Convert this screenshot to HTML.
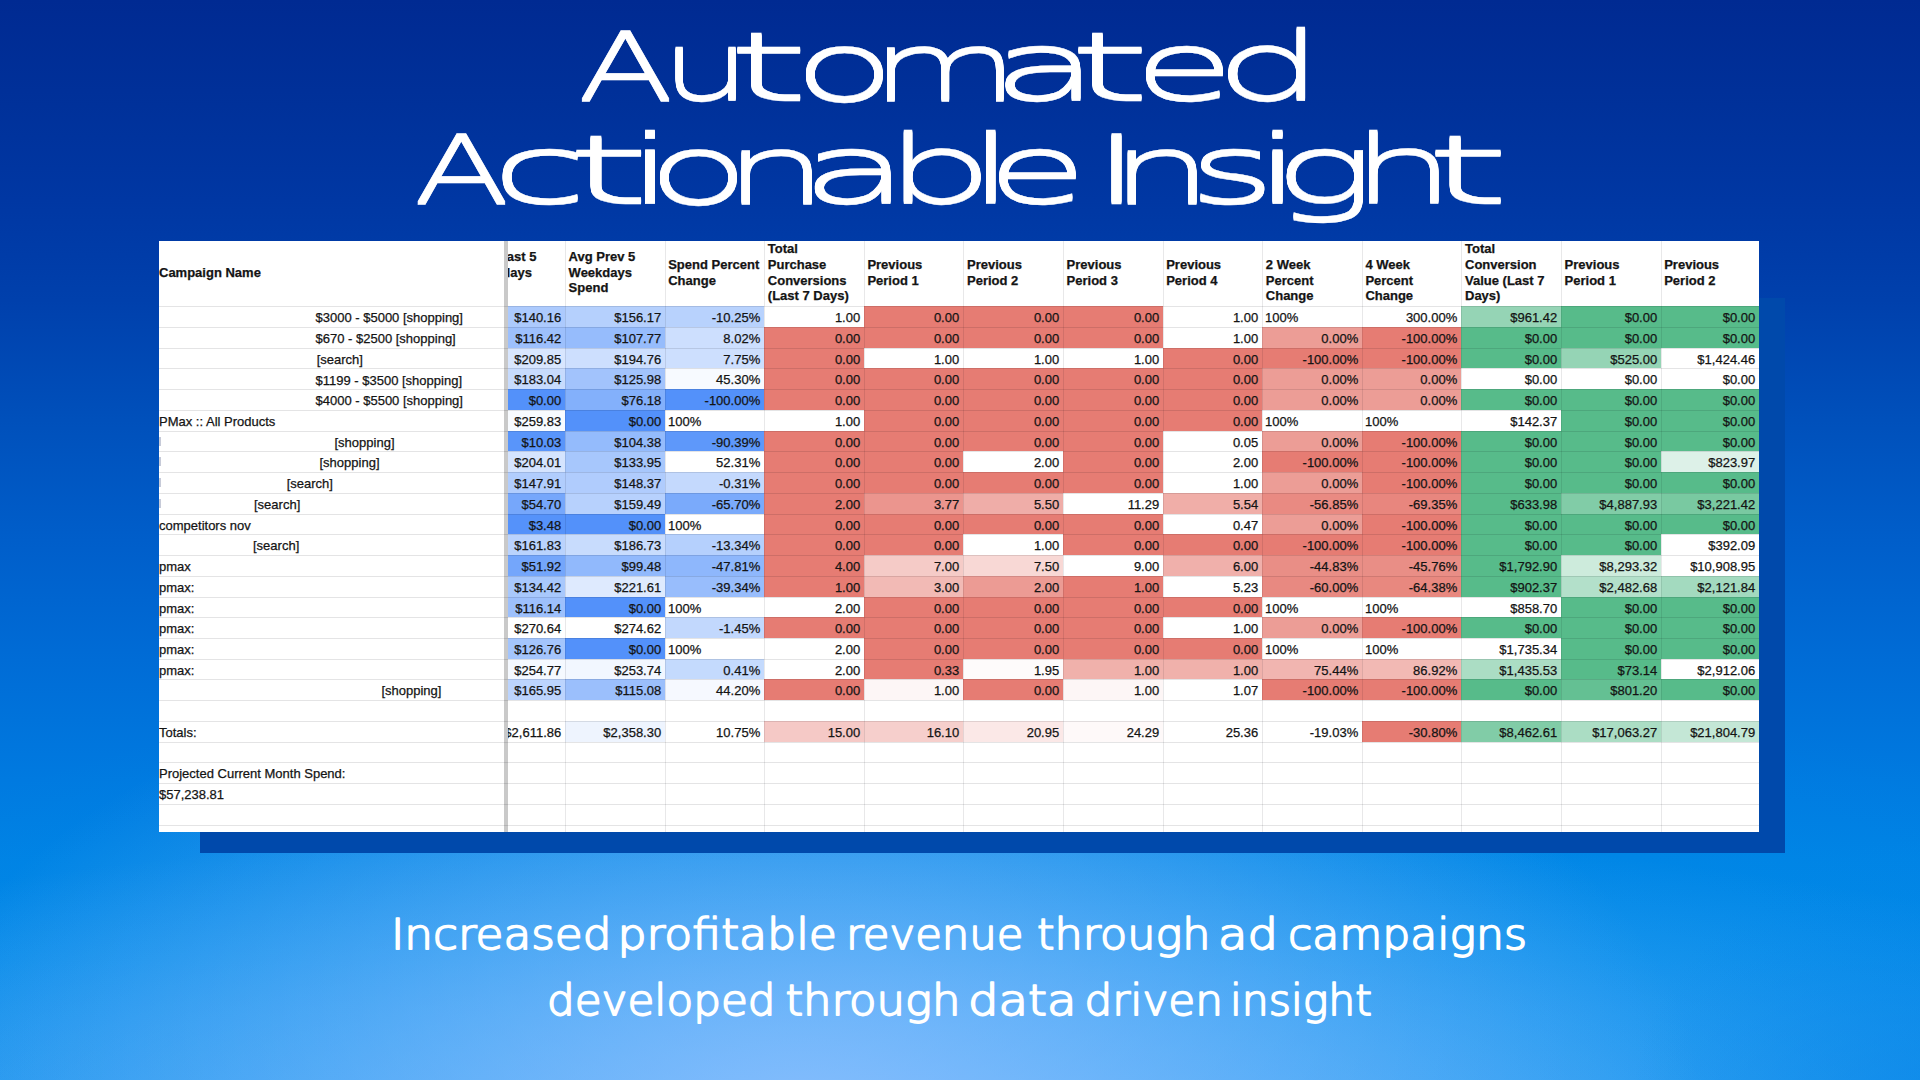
<!DOCTYPE html>
<html><head><meta charset="utf-8"><title>Automated Actionable Insight</title>
<style>
html,body{margin:0;padding:0}
body{width:1920px;height:1080px;overflow:hidden;position:relative;font-family:"Liberation Sans",sans-serif;
background:radial-gradient(ellipse 330px 280px at 1960px 1110px,rgba(8,134,232,.7),rgba(8,134,232,0)),radial-gradient(ellipse 900px 470px at 800px 1100px,rgba(150,195,255,.75),rgba(140,190,255,0)),radial-gradient(ellipse 1500px 300px at 900px 1120px,rgba(110,180,252,.7),rgba(40,165,248,0)),radial-gradient(ellipse 1400px 480px at 1000px 1120px,rgba(0,175,250,.3),rgba(0,175,250,0)),linear-gradient(180deg,#002a92 0px,#00319a 105px,#0037a3 200px,#0040ac 300px,#0050bb 420px,#005eca 540px,#006cd6 660px,#007ae0 780px,#0082e4 860px,#0086e6 960px,#088ae8 1080px)}
#shadow{position:absolute;left:200px;top:297.5px;width:1584.5px;height:555px;background:#0049ab}
#sheet{position:absolute;left:159px;top:241px;width:1600px;height:591px;background:#fff;overflow:hidden;font-size:13px;color:#141414;-webkit-text-stroke:.25px #141414}
#left{position:absolute;left:0;top:0;width:345px;height:591px;overflow:hidden}
#bar{position:absolute;left:345.4px;top:0;width:3.8px;height:591px;background:#c9c9c9}
#scroll{position:absolute;left:349px;top:0;width:1251px;height:591px;overflow:hidden}
.c{position:absolute;box-sizing:border-box;text-align:right;padding-right:3.8px;line-height:23.4px;white-space:nowrap;z-index:2}
.c.l{text-align:left;padding-left:3px}
.n{position:absolute;line-height:23.4px;white-space:nowrap;height:20.7px;z-index:2}
.hl{position:absolute;left:0;width:1600px;height:1px;background:rgba(0,0,10,.105);z-index:3}
.vl{position:absolute;top:0;width:1px;height:591px;background:rgba(0,0,10,.09);z-index:3}
.h{position:absolute;font-weight:bold;line-height:15.8px;white-space:nowrap;z-index:2}
.mk{position:absolute;left:0;width:1.7px;height:9px;background:#c6cad8}
</style></head><body>
<div id="shadow"></div>
<svg id="title" width="1920" height="240" style="position:absolute;left:0;top:0" font-family="'DejaVu Sans',sans-serif" font-weight="200" font-size="93" fill="#fff" stroke="#fff" stroke-width="0.4">
<defs><filter id="vt" x="-2%" y="-10%" width="104%" height="120%"><feOffset dy="-2" result="a"/><feOffset in="SourceGraphic" dy="-1" result="b"/><feOffset in="SourceGraphic" dy="1" result="c"/><feMerge><feMergeNode in="a"/><feMergeNode in="b"/><feMergeNode in="SourceGraphic"/><feMergeNode in="c"/></feMerge></filter></defs>
<g filter="url(#vt)">
<text y="100"><tspan x="578.1" textLength="95.5" lengthAdjust="spacingAndGlyphs">A</tspan><tspan x="660.5" textLength="91.0" lengthAdjust="spacingAndGlyphs">u</tspan><tspan x="727.4" textLength="81.8" lengthAdjust="spacingAndGlyphs">t</tspan><tspan x="792.9" textLength="102.9" lengthAdjust="spacingAndGlyphs">o</tspan><tspan x="869.9" textLength="149.5" lengthAdjust="spacingAndGlyphs">m</tspan><tspan x="991.2" textLength="108.9" lengthAdjust="spacingAndGlyphs">a</tspan><tspan x="1068.6" textLength="82.2" lengthAdjust="spacingAndGlyphs">t</tspan><tspan x="1133.2" textLength="101.8" lengthAdjust="spacingAndGlyphs">e</tspan><tspan x="1214.7" textLength="109.7" lengthAdjust="spacingAndGlyphs">d</tspan></text>
<text y="202.75"><tspan x="413.8" textLength="95.8" lengthAdjust="spacingAndGlyphs">A</tspan><tspan x="490.9" textLength="97.0" lengthAdjust="spacingAndGlyphs">c</tspan><tspan x="566.3" textLength="84.3" lengthAdjust="spacingAndGlyphs">t</tspan><tspan x="623.2" textLength="55.0" lengthAdjust="spacingAndGlyphs">i</tspan><tspan x="647.0" textLength="102.9" lengthAdjust="spacingAndGlyphs">o</tspan><tspan x="722.9" textLength="106.2" lengthAdjust="spacingAndGlyphs">n</tspan><tspan x="800.4" textLength="109.9" lengthAdjust="spacingAndGlyphs">a</tspan><tspan x="884.5" textLength="109.6" lengthAdjust="spacingAndGlyphs">b</tspan><tspan x="964.9" textLength="52.6" lengthAdjust="spacingAndGlyphs">l</tspan><tspan x="986.5" textLength="101.3" lengthAdjust="spacingAndGlyphs">e</tspan> <tspan x="1090.5" textLength="52.3" lengthAdjust="spacingAndGlyphs">I</tspan><tspan x="1109.4" textLength="104.3" lengthAdjust="spacingAndGlyphs">n</tspan><tspan x="1188.3" textLength="87.8" lengthAdjust="spacingAndGlyphs">s</tspan><tspan x="1250.5" textLength="55.7" lengthAdjust="spacingAndGlyphs">i</tspan><tspan x="1273.2" textLength="102.8" lengthAdjust="spacingAndGlyphs">g</tspan><tspan x="1350.7" textLength="105.1" lengthAdjust="spacingAndGlyphs">h</tspan><tspan x="1425.2" textLength="84.8" lengthAdjust="spacingAndGlyphs">t</tspan></text>
</g>
</svg>
<svg id="sub" width="1920" height="200" style="position:absolute;left:0;top:880px" font-family="'DejaVu Sans',sans-serif" font-weight="200" font-size="42.5" fill="#fff" stroke="#fff" stroke-width="1.75" stroke-linejoin="round">
<text y="68.8"><tspan x="391.0" textLength="220.5" lengthAdjust="spacingAndGlyphs">Increased</tspan> <tspan x="617.5" textLength="219.5" lengthAdjust="spacingAndGlyphs">profitable</tspan> <tspan x="846.0" textLength="177.5" lengthAdjust="spacingAndGlyphs">revenue</tspan> <tspan x="1037.0" textLength="173.5" lengthAdjust="spacingAndGlyphs">through</tspan> <tspan x="1218.0" textLength="60.0" lengthAdjust="spacingAndGlyphs">ad</tspan> <tspan x="1288.0" textLength="239.0" lengthAdjust="spacingAndGlyphs">campaigns</tspan></text>
<text y="134.8"><tspan x="547.0" textLength="228.5" lengthAdjust="spacingAndGlyphs">developed</tspan> <tspan x="785.5" textLength="175.0" lengthAdjust="spacingAndGlyphs">through</tspan> <tspan x="968.0" textLength="108.5" lengthAdjust="spacingAndGlyphs">data</tspan> <tspan x="1084.5" textLength="138.5" lengthAdjust="spacingAndGlyphs">driven</tspan> <tspan x="1230.0" textLength="142.0" lengthAdjust="spacingAndGlyphs">insight</tspan></text>
</svg>
<div id="sheet">
<div id="left">
<div class="h" style="left:0;top:24.1px">Campaign Name</div>
<div class="n" style="left:156.5px;top:65.3px">$3000 - $5000 [shopping]</div>
<div class="n" style="left:156.5px;top:86.0px">$670 - $2500 [shopping]</div>
<div class="n" style="left:157.7px;top:106.8px">[search]</div>
<div class="n" style="left:156.5px;top:127.5px">$1199 - $3500 [shopping]</div>
<div class="n" style="left:156.5px;top:148.2px">$4000 - $5500 [shopping]</div>
<div class="n" style="left:0.0px;top:169.0px">PMax :: All Products</div>
<div class="n" style="left:175.5px;top:189.7px">[shopping]</div>
<div class="n" style="left:160.5px;top:210.4px">[shopping]</div>
<div class="n" style="left:127.7px;top:231.1px">[search]</div>
<div class="n" style="left:95.0px;top:251.9px">[search]</div>
<div class="n" style="left:0.0px;top:272.6px">competitors nov</div>
<div class="n" style="left:94.0px;top:293.3px">[search]</div>
<div class="n" style="left:0.0px;top:314.1px">pmax</div>
<div class="n" style="left:0.0px;top:334.8px">pmax:</div>
<div class="n" style="left:0.0px;top:355.5px">pmax:</div>
<div class="n" style="left:0.0px;top:376.2px">pmax:</div>
<div class="n" style="left:0.0px;top:397.0px">pmax:</div>
<div class="n" style="left:0.0px;top:417.7px">pmax:</div>
<div class="n" style="left:222.4px;top:438.4px">[shopping]</div>
<div class="n" style="left:0.0px;top:479.9px">Totals:</div>
<div class="n" style="left:0.0px;top:521.4px">Projected Current Month Spend:</div>
<div class="n" style="left:0.0px;top:542.1px">$57,238.81</div>
<div class="mk" style="top:195.7px"></div>
<div class="mk" style="top:216.4px"></div>
<div class="mk" style="top:237.1px"></div>
<div class="mk" style="top:257.9px"></div>
</div>
<div id="bar"></div>
<div id="scroll">
<div class="h" style="left:-52.5px;top:7.9px">Spend Last 5<br><span style="margin-left:13px">Weekdays</span></div>
<div class="h" style="left:60.6px;top:7.9px">Avg Prev 5<br>Weekdays<br>Spend</div>
<div class="h" style="left:160.2px;top:15.8px">Spend Percent<br>Change</div>
<div class="h" style="left:259.8px;top:-0.0px">Total<br>Purchase<br>Conversions<br>(Last 7 Days)</div>
<div class="h" style="left:359.4px;top:15.8px">Previous<br>Period 1</div>
<div class="h" style="left:459.0px;top:15.8px">Previous<br>Period 2</div>
<div class="h" style="left:558.6px;top:15.8px">Previous<br>Period 3</div>
<div class="h" style="left:658.2px;top:15.8px">Previous<br>Period 4</div>
<div class="h" style="left:757.8px;top:15.9px">2 Week<br>Percent<br>Change</div>
<div class="h" style="left:857.4px;top:15.9px">4 Week<br>Percent<br>Change</div>
<div class="h" style="left:957.0px;top:-0.0px">Total<br>Conversion<br>Value (Last 7<br>Days)</div>
<div class="h" style="left:1056.6px;top:15.8px">Previous<br>Period 1</div>
<div class="h" style="left:1156.2px;top:15.8px">Previous<br>Period 2</div>
<div class="c" style="left:-43px;top:65px;width:100px;height:21px;background:#accafd;">$140.16</div>
<div class="c" style="left:57px;top:65px;width:100px;height:21px;background:#b5d0fd;">$156.17</div>
<div class="c" style="left:157px;top:65px;width:99px;height:21px;background:#b8d2fd;">-10.25%</div>
<div class="c" style="left:256px;top:65px;width:100px;height:21px;">1.00</div>
<div class="c" style="left:356px;top:65px;width:99px;height:21px;background:#e67c73;">0.00</div>
<div class="c" style="left:455px;top:65px;width:100px;height:21px;background:#e67c73;">0.00</div>
<div class="c" style="left:555px;top:65px;width:100px;height:21px;background:#e67c73;">0.00</div>
<div class="c" style="left:655px;top:65px;width:99px;height:21px;">1.00</div>
<div class="c l" style="left:754px;top:65px;width:100px;height:21px;">100%</div>
<div class="c" style="left:854px;top:65px;width:99px;height:21px;">300.00%</div>
<div class="c" style="left:953px;top:65px;width:100px;height:21px;background:#95d4b5;">$961.42</div>
<div class="c" style="left:1053px;top:65px;width:100px;height:21px;background:#57bb8a;">$0.00</div>
<div class="c" style="left:1153px;top:65px;width:99px;height:21px;background:#57bb8a;padding-right:4.8px;">$0.00</div>
<div class="c" style="left:-43px;top:86px;width:100px;height:21px;background:#9dc0fc;">$116.42</div>
<div class="c" style="left:57px;top:86px;width:100px;height:21px;background:#96bcfc;">$107.77</div>
<div class="c" style="left:157px;top:86px;width:99px;height:21px;background:#cddffe;">8.02%</div>
<div class="c" style="left:256px;top:86px;width:100px;height:21px;background:#e67c73;">0.00</div>
<div class="c" style="left:356px;top:86px;width:99px;height:21px;background:#e67c73;">0.00</div>
<div class="c" style="left:455px;top:86px;width:100px;height:21px;background:#e67c73;">0.00</div>
<div class="c" style="left:555px;top:86px;width:100px;height:21px;background:#e67c73;">0.00</div>
<div class="c" style="left:655px;top:86px;width:99px;height:21px;">1.00</div>
<div class="c" style="left:754px;top:86px;width:100px;height:21px;background:#ec9d96;">0.00%</div>
<div class="c" style="left:854px;top:86px;width:99px;height:21px;background:#e67c73;">-100.00%</div>
<div class="c" style="left:953px;top:86px;width:100px;height:21px;background:#57bb8a;">$0.00</div>
<div class="c" style="left:1053px;top:86px;width:100px;height:21px;background:#57bb8a;">$0.00</div>
<div class="c" style="left:1153px;top:86px;width:99px;height:21px;background:#57bb8a;padding-right:4.8px;">$0.00</div>
<div class="c" style="left:-43px;top:107px;width:100px;height:20px;background:#d8e6fe;">$209.85</div>
<div class="c" style="left:57px;top:107px;width:100px;height:20px;background:#cddffe;">$194.76</div>
<div class="c" style="left:157px;top:107px;width:99px;height:20px;background:#cddffe;">7.75%</div>
<div class="c" style="left:256px;top:107px;width:100px;height:20px;background:#e67c73;">0.00</div>
<div class="c" style="left:356px;top:107px;width:99px;height:20px;">1.00</div>
<div class="c" style="left:455px;top:107px;width:100px;height:20px;">1.00</div>
<div class="c" style="left:555px;top:107px;width:100px;height:20px;">1.00</div>
<div class="c" style="left:655px;top:107px;width:99px;height:20px;background:#e67c73;">0.00</div>
<div class="c" style="left:754px;top:107px;width:100px;height:20px;background:#e67c73;">-100.00%</div>
<div class="c" style="left:854px;top:107px;width:99px;height:20px;background:#e67c73;">-100.00%</div>
<div class="c" style="left:953px;top:107px;width:100px;height:20px;background:#57bb8a;">$0.00</div>
<div class="c" style="left:1053px;top:107px;width:100px;height:20px;background:#95d4b5;">$525.00</div>
<div class="c" style="left:1153px;top:107px;width:99px;height:20px;padding-right:4.8px;">$1,424.46</div>
<div class="c" style="left:-43px;top:127px;width:100px;height:21px;background:#c7dbfd;">$183.04</div>
<div class="c" style="left:57px;top:127px;width:100px;height:21px;background:#a2c3fc;">$125.98</div>
<div class="c" style="left:157px;top:127px;width:99px;height:21px;background:#f7faff;">45.30%</div>
<div class="c" style="left:256px;top:127px;width:100px;height:21px;background:#e67c73;">0.00</div>
<div class="c" style="left:356px;top:127px;width:99px;height:21px;background:#e67c73;">0.00</div>
<div class="c" style="left:455px;top:127px;width:100px;height:21px;background:#e67c73;">0.00</div>
<div class="c" style="left:555px;top:127px;width:100px;height:21px;background:#e67c73;">0.00</div>
<div class="c" style="left:655px;top:127px;width:99px;height:21px;background:#e67c73;">0.00</div>
<div class="c" style="left:754px;top:127px;width:100px;height:21px;background:#ec9d96;">0.00%</div>
<div class="c" style="left:854px;top:127px;width:99px;height:21px;background:#ec9d96;">0.00%</div>
<div class="c" style="left:953px;top:127px;width:100px;height:21px;">$0.00</div>
<div class="c" style="left:1053px;top:127px;width:100px;height:21px;">$0.00</div>
<div class="c" style="left:1153px;top:127px;width:99px;height:21px;padding-right:4.8px;">$0.00</div>
<div class="c" style="left:-43px;top:148px;width:100px;height:21px;background:#5391fa;">$0.00</div>
<div class="c" style="left:57px;top:148px;width:100px;height:21px;background:#83b0fb;">$76.18</div>
<div class="c" style="left:157px;top:148px;width:99px;height:21px;background:#5391fa;">-100.00%</div>
<div class="c" style="left:256px;top:148px;width:100px;height:21px;background:#e67c73;">0.00</div>
<div class="c" style="left:356px;top:148px;width:99px;height:21px;background:#e67c73;">0.00</div>
<div class="c" style="left:455px;top:148px;width:100px;height:21px;background:#e67c73;">0.00</div>
<div class="c" style="left:555px;top:148px;width:100px;height:21px;background:#e67c73;">0.00</div>
<div class="c" style="left:655px;top:148px;width:99px;height:21px;background:#e67c73;">0.00</div>
<div class="c" style="left:754px;top:148px;width:100px;height:21px;background:#ec9d96;">0.00%</div>
<div class="c" style="left:854px;top:148px;width:99px;height:21px;background:#ec9d96;">0.00%</div>
<div class="c" style="left:953px;top:148px;width:100px;height:21px;background:#57bb8a;">$0.00</div>
<div class="c" style="left:1053px;top:148px;width:100px;height:21px;background:#57bb8a;">$0.00</div>
<div class="c" style="left:1153px;top:148px;width:99px;height:21px;background:#57bb8a;padding-right:4.8px;">$0.00</div>
<div class="c" style="left:-43px;top:169px;width:100px;height:21px;background:#f8fbff;">$259.83</div>
<div class="c" style="left:57px;top:169px;width:100px;height:21px;background:#5391fa;">$0.00</div>
<div class="c l" style="left:157px;top:169px;width:99px;height:21px;">100%</div>
<div class="c" style="left:256px;top:169px;width:100px;height:21px;">1.00</div>
<div class="c" style="left:356px;top:169px;width:99px;height:21px;background:#e67c73;">0.00</div>
<div class="c" style="left:455px;top:169px;width:100px;height:21px;background:#e67c73;">0.00</div>
<div class="c" style="left:555px;top:169px;width:100px;height:21px;background:#e67c73;">0.00</div>
<div class="c" style="left:655px;top:169px;width:99px;height:21px;background:#e67c73;">0.00</div>
<div class="c l" style="left:754px;top:169px;width:100px;height:21px;">100%</div>
<div class="c l" style="left:854px;top:169px;width:99px;height:21px;">100%</div>
<div class="c" style="left:953px;top:169px;width:100px;height:21px;">$142.37</div>
<div class="c" style="left:1053px;top:169px;width:100px;height:21px;background:#57bb8a;">$0.00</div>
<div class="c" style="left:1153px;top:169px;width:99px;height:21px;background:#57bb8a;padding-right:4.8px;">$0.00</div>
<div class="c" style="left:-43px;top:190px;width:100px;height:20px;background:#5995fa;">$10.03</div>
<div class="c" style="left:57px;top:190px;width:100px;height:20px;background:#94bbfc;">$104.38</div>
<div class="c" style="left:157px;top:190px;width:99px;height:20px;background:#5e98fa;">-90.39%</div>
<div class="c" style="left:256px;top:190px;width:100px;height:20px;background:#e67c73;">0.00</div>
<div class="c" style="left:356px;top:190px;width:99px;height:20px;background:#e67c73;">0.00</div>
<div class="c" style="left:455px;top:190px;width:100px;height:20px;background:#e67c73;">0.00</div>
<div class="c" style="left:555px;top:190px;width:100px;height:20px;background:#e67c73;">0.00</div>
<div class="c" style="left:655px;top:190px;width:99px;height:20px;">0.05</div>
<div class="c" style="left:754px;top:190px;width:100px;height:20px;background:#ec9d96;">0.00%</div>
<div class="c" style="left:854px;top:190px;width:99px;height:20px;background:#e67c73;">-100.00%</div>
<div class="c" style="left:953px;top:190px;width:100px;height:20px;background:#57bb8a;">$0.00</div>
<div class="c" style="left:1053px;top:190px;width:100px;height:20px;background:#57bb8a;">$0.00</div>
<div class="c" style="left:1153px;top:190px;width:99px;height:20px;background:#57bb8a;padding-right:4.8px;">$0.00</div>
<div class="c" style="left:-43px;top:210px;width:100px;height:21px;background:#d5e4fe;">$204.01</div>
<div class="c" style="left:57px;top:210px;width:100px;height:21px;background:#a7c7fc;">$133.95</div>
<div class="c" style="left:157px;top:210px;width:99px;height:21px;">52.31%</div>
<div class="c" style="left:256px;top:210px;width:100px;height:21px;background:#e67c73;">0.00</div>
<div class="c" style="left:356px;top:210px;width:99px;height:21px;background:#e67c73;">0.00</div>
<div class="c" style="left:455px;top:210px;width:100px;height:21px;">2.00</div>
<div class="c" style="left:555px;top:210px;width:100px;height:21px;background:#e67c73;">0.00</div>
<div class="c" style="left:655px;top:210px;width:99px;height:21px;">2.00</div>
<div class="c" style="left:754px;top:210px;width:100px;height:21px;background:#e67c73;">-100.00%</div>
<div class="c" style="left:854px;top:210px;width:99px;height:21px;background:#e67c73;">-100.00%</div>
<div class="c" style="left:953px;top:210px;width:100px;height:21px;background:#57bb8a;">$0.00</div>
<div class="c" style="left:1053px;top:210px;width:100px;height:21px;background:#57bb8a;">$0.00</div>
<div class="c" style="left:1153px;top:210px;width:99px;height:21px;background:#ddf1e8;padding-right:4.8px;">$823.97</div>
<div class="c" style="left:-43px;top:231px;width:100px;height:21px;background:#b1cdfd;">$147.91</div>
<div class="c" style="left:57px;top:231px;width:100px;height:21px;background:#b0ccfd;">$148.37</div>
<div class="c" style="left:157px;top:231px;width:99px;height:21px;background:#c4d9fd;">-0.31%</div>
<div class="c" style="left:256px;top:231px;width:100px;height:21px;background:#e67c73;">0.00</div>
<div class="c" style="left:356px;top:231px;width:99px;height:21px;background:#e67c73;">0.00</div>
<div class="c" style="left:455px;top:231px;width:100px;height:21px;background:#e67c73;">0.00</div>
<div class="c" style="left:555px;top:231px;width:100px;height:21px;background:#e67c73;">0.00</div>
<div class="c" style="left:655px;top:231px;width:99px;height:21px;">1.00</div>
<div class="c" style="left:754px;top:231px;width:100px;height:21px;background:#ec9d96;">0.00%</div>
<div class="c" style="left:854px;top:231px;width:99px;height:21px;background:#e67c73;">-100.00%</div>
<div class="c" style="left:953px;top:231px;width:100px;height:21px;background:#57bb8a;">$0.00</div>
<div class="c" style="left:1053px;top:231px;width:100px;height:21px;background:#57bb8a;">$0.00</div>
<div class="c" style="left:1153px;top:231px;width:99px;height:21px;background:#57bb8a;padding-right:4.8px;">$0.00</div>
<div class="c" style="left:-43px;top:252px;width:100px;height:21px;background:#76a7fb;">$54.70</div>
<div class="c" style="left:57px;top:252px;width:100px;height:21px;background:#b7d1fd;">$159.49</div>
<div class="c" style="left:157px;top:252px;width:99px;height:21px;background:#7aaafb;">-65.70%</div>
<div class="c" style="left:256px;top:252px;width:100px;height:21px;background:#e67c73;">2.00</div>
<div class="c" style="left:356px;top:252px;width:99px;height:21px;background:#eb958e;">3.77</div>
<div class="c" style="left:455px;top:252px;width:100px;height:21px;background:#efada8;">5.50</div>
<div class="c" style="left:555px;top:252px;width:100px;height:21px;">11.29</div>
<div class="c" style="left:655px;top:252px;width:99px;height:21px;background:#f0aea8;">5.54</div>
<div class="c" style="left:754px;top:252px;width:100px;height:21px;background:#e98a82;">-56.85%</div>
<div class="c" style="left:854px;top:252px;width:99px;height:21px;background:#e8867e;">-69.35%</div>
<div class="c" style="left:953px;top:252px;width:100px;height:21px;background:#57bb8a;">$633.98</div>
<div class="c" style="left:1053px;top:252px;width:100px;height:21px;background:#81cca7;">$4,887.93</div>
<div class="c" style="left:1153px;top:252px;width:99px;height:21px;background:#79c9a1;padding-right:4.8px;">$3,221.42</div>
<div class="c" style="left:-43px;top:273px;width:100px;height:20px;background:#5592fa;">$3.48</div>
<div class="c" style="left:57px;top:273px;width:100px;height:20px;background:#5391fa;">$0.00</div>
<div class="c l" style="left:157px;top:273px;width:99px;height:20px;">100%</div>
<div class="c" style="left:256px;top:273px;width:100px;height:20px;background:#e67c73;">0.00</div>
<div class="c" style="left:356px;top:273px;width:99px;height:20px;background:#e67c73;">0.00</div>
<div class="c" style="left:455px;top:273px;width:100px;height:20px;background:#e67c73;">0.00</div>
<div class="c" style="left:555px;top:273px;width:100px;height:20px;background:#e67c73;">0.00</div>
<div class="c" style="left:655px;top:273px;width:99px;height:20px;">0.47</div>
<div class="c" style="left:754px;top:273px;width:100px;height:20px;background:#ec9d96;">0.00%</div>
<div class="c" style="left:854px;top:273px;width:99px;height:20px;background:#e67c73;">-100.00%</div>
<div class="c" style="left:953px;top:273px;width:100px;height:20px;background:#57bb8a;">$0.00</div>
<div class="c" style="left:1053px;top:273px;width:100px;height:20px;background:#57bb8a;">$0.00</div>
<div class="c" style="left:1153px;top:273px;width:99px;height:20px;background:#57bb8a;padding-right:4.8px;">$0.00</div>
<div class="c" style="left:-43px;top:293px;width:100px;height:21px;background:#bad3fd;">$161.83</div>
<div class="c" style="left:57px;top:293px;width:100px;height:21px;background:#c8dcfd;">$186.73</div>
<div class="c" style="left:157px;top:293px;width:99px;height:21px;background:#b5d0fd;">-13.34%</div>
<div class="c" style="left:256px;top:293px;width:100px;height:21px;background:#e67c73;">0.00</div>
<div class="c" style="left:356px;top:293px;width:99px;height:21px;background:#e67c73;">0.00</div>
<div class="c" style="left:455px;top:293px;width:100px;height:21px;">1.00</div>
<div class="c" style="left:555px;top:293px;width:100px;height:21px;background:#e67c73;">0.00</div>
<div class="c" style="left:655px;top:293px;width:99px;height:21px;background:#e67c73;">0.00</div>
<div class="c" style="left:754px;top:293px;width:100px;height:21px;background:#e67c73;">-100.00%</div>
<div class="c" style="left:854px;top:293px;width:99px;height:21px;background:#e67c73;">-100.00%</div>
<div class="c" style="left:953px;top:293px;width:100px;height:21px;background:#57bb8a;">$0.00</div>
<div class="c" style="left:1053px;top:293px;width:100px;height:21px;background:#57bb8a;">$0.00</div>
<div class="c" style="left:1153px;top:293px;width:99px;height:21px;padding-right:4.8px;">$392.09</div>
<div class="c" style="left:-43px;top:314px;width:100px;height:21px;background:#74a6fb;">$51.92</div>
<div class="c" style="left:57px;top:314px;width:100px;height:21px;background:#91b9fc;">$99.48</div>
<div class="c" style="left:157px;top:314px;width:99px;height:21px;background:#8eb7fc;">-47.81%</div>
<div class="c" style="left:256px;top:314px;width:100px;height:21px;background:#e67c73;">4.00</div>
<div class="c" style="left:356px;top:314px;width:99px;height:21px;background:#f5cbc7;">7.00</div>
<div class="c" style="left:455px;top:314px;width:100px;height:21px;background:#f8d8d5;">7.50</div>
<div class="c" style="left:555px;top:314px;width:100px;height:21px;">9.00</div>
<div class="c" style="left:655px;top:314px;width:99px;height:21px;background:#f0b0ab;">6.00</div>
<div class="c" style="left:754px;top:314px;width:100px;height:21px;background:#e98e86;">-44.83%</div>
<div class="c" style="left:854px;top:314px;width:99px;height:21px;background:#e98e86;">-45.76%</div>
<div class="c" style="left:953px;top:314px;width:100px;height:21px;background:#57bb8a;">$1,792.90</div>
<div class="c" style="left:1053px;top:314px;width:100px;height:21px;background:#cdebdc;">$8,293.32</div>
<div class="c" style="left:1153px;top:314px;width:99px;height:21px;padding-right:4.8px;">$10,908.95</div>
<div class="c" style="left:-43px;top:335px;width:100px;height:21px;background:#a8c8fc;">$134.42</div>
<div class="c" style="left:57px;top:335px;width:100px;height:21px;background:#deeafe;">$221.61</div>
<div class="c" style="left:157px;top:335px;width:99px;height:21px;background:#98bdfc;">-39.34%</div>
<div class="c" style="left:256px;top:335px;width:100px;height:21px;background:#e67c73;">1.00</div>
<div class="c" style="left:356px;top:335px;width:99px;height:21px;background:#f2bab5;">3.00</div>
<div class="c" style="left:455px;top:335px;width:100px;height:21px;background:#ec9b94;">2.00</div>
<div class="c" style="left:555px;top:335px;width:100px;height:21px;background:#e67c73;">1.00</div>
<div class="c" style="left:655px;top:335px;width:99px;height:21px;">5.23</div>
<div class="c" style="left:754px;top:335px;width:100px;height:21px;background:#e88981;">-60.00%</div>
<div class="c" style="left:854px;top:335px;width:99px;height:21px;background:#e8887f;">-64.38%</div>
<div class="c" style="left:953px;top:335px;width:100px;height:21px;background:#57bb8a;">$902.37</div>
<div class="c" style="left:1053px;top:335px;width:100px;height:21px;background:#b3e0ca;">$2,482.68</div>
<div class="c" style="left:1153px;top:335px;width:99px;height:21px;background:#a3dabf;padding-right:4.8px;">$2,121.84</div>
<div class="c" style="left:-43px;top:356px;width:100px;height:20px;background:#9dc0fc;">$116.14</div>
<div class="c" style="left:57px;top:356px;width:100px;height:20px;background:#5391fa;">$0.00</div>
<div class="c l" style="left:157px;top:356px;width:99px;height:20px;">100%</div>
<div class="c" style="left:256px;top:356px;width:100px;height:20px;">2.00</div>
<div class="c" style="left:356px;top:356px;width:99px;height:20px;background:#e67c73;">0.00</div>
<div class="c" style="left:455px;top:356px;width:100px;height:20px;background:#e67c73;">0.00</div>
<div class="c" style="left:555px;top:356px;width:100px;height:20px;background:#e67c73;">0.00</div>
<div class="c" style="left:655px;top:356px;width:99px;height:20px;background:#e67c73;">0.00</div>
<div class="c l" style="left:754px;top:356px;width:100px;height:20px;">100%</div>
<div class="c l" style="left:854px;top:356px;width:99px;height:20px;">100%</div>
<div class="c" style="left:953px;top:356px;width:100px;height:20px;">$858.70</div>
<div class="c" style="left:1053px;top:356px;width:100px;height:20px;background:#57bb8a;">$0.00</div>
<div class="c" style="left:1153px;top:356px;width:99px;height:20px;background:#57bb8a;padding-right:4.8px;">$0.00</div>
<div class="c" style="left:-43px;top:376px;width:100px;height:21px;">$270.64</div>
<div class="c" style="left:57px;top:376px;width:100px;height:21px;">$274.62</div>
<div class="c" style="left:157px;top:376px;width:99px;height:21px;background:#c2d8fd;">-1.45%</div>
<div class="c" style="left:256px;top:376px;width:100px;height:21px;background:#e67c73;">0.00</div>
<div class="c" style="left:356px;top:376px;width:99px;height:21px;background:#e67c73;">0.00</div>
<div class="c" style="left:455px;top:376px;width:100px;height:21px;background:#e67c73;">0.00</div>
<div class="c" style="left:555px;top:376px;width:100px;height:21px;background:#e67c73;">0.00</div>
<div class="c" style="left:655px;top:376px;width:99px;height:21px;">1.00</div>
<div class="c" style="left:754px;top:376px;width:100px;height:21px;background:#ec9d96;">0.00%</div>
<div class="c" style="left:854px;top:376px;width:99px;height:21px;background:#e67c73;">-100.00%</div>
<div class="c" style="left:953px;top:376px;width:100px;height:21px;background:#57bb8a;">$0.00</div>
<div class="c" style="left:1053px;top:376px;width:100px;height:21px;background:#57bb8a;">$0.00</div>
<div class="c" style="left:1153px;top:376px;width:99px;height:21px;background:#57bb8a;padding-right:4.8px;">$0.00</div>
<div class="c" style="left:-43px;top:397px;width:100px;height:21px;background:#a4c5fc;">$126.76</div>
<div class="c" style="left:57px;top:397px;width:100px;height:21px;background:#5391fa;">$0.00</div>
<div class="c l" style="left:157px;top:397px;width:99px;height:21px;">100%</div>
<div class="c" style="left:256px;top:397px;width:100px;height:21px;">2.00</div>
<div class="c" style="left:356px;top:397px;width:99px;height:21px;background:#e67c73;">0.00</div>
<div class="c" style="left:455px;top:397px;width:100px;height:21px;background:#e67c73;">0.00</div>
<div class="c" style="left:555px;top:397px;width:100px;height:21px;background:#e67c73;">0.00</div>
<div class="c" style="left:655px;top:397px;width:99px;height:21px;background:#e67c73;">0.00</div>
<div class="c l" style="left:754px;top:397px;width:100px;height:21px;">100%</div>
<div class="c l" style="left:854px;top:397px;width:99px;height:21px;">100%</div>
<div class="c" style="left:953px;top:397px;width:100px;height:21px;">$1,735.34</div>
<div class="c" style="left:1053px;top:397px;width:100px;height:21px;background:#57bb8a;">$0.00</div>
<div class="c" style="left:1153px;top:397px;width:99px;height:21px;background:#57bb8a;padding-right:4.8px;">$0.00</div>
<div class="c" style="left:-43px;top:418px;width:100px;height:20px;background:#f5f9ff;">$254.77</div>
<div class="c" style="left:57px;top:418px;width:100px;height:20px;background:#f2f7ff;">$253.74</div>
<div class="c" style="left:157px;top:418px;width:99px;height:20px;background:#c4dafd;">0.41%</div>
<div class="c" style="left:256px;top:418px;width:100px;height:20px;">2.00</div>
<div class="c" style="left:356px;top:418px;width:99px;height:20px;background:#e67c73;">0.33</div>
<div class="c" style="left:455px;top:418px;width:100px;height:20px;background:#fefbfb;">1.95</div>
<div class="c" style="left:555px;top:418px;width:100px;height:20px;background:#f0b1ab;">1.00</div>
<div class="c" style="left:655px;top:418px;width:99px;height:20px;background:#f0b1ab;">1.00</div>
<div class="c" style="left:754px;top:418px;width:100px;height:20px;background:#f1b5b0;">75.44%</div>
<div class="c" style="left:854px;top:418px;width:99px;height:20px;background:#f2b9b4;">86.92%</div>
<div class="c" style="left:953px;top:418px;width:100px;height:20px;background:#abddc4;">$1,435.53</div>
<div class="c" style="left:1053px;top:418px;width:100px;height:20px;background:#57bb8a;">$73.14</div>
<div class="c" style="left:1153px;top:418px;width:99px;height:20px;padding-right:4.8px;">$2,912.06</div>
<div class="c" style="left:-43px;top:438px;width:100px;height:21px;background:#bcd4fd;">$165.95</div>
<div class="c" style="left:57px;top:438px;width:100px;height:21px;background:#9bbffc;">$115.08</div>
<div class="c" style="left:157px;top:438px;width:99px;height:21px;background:#f6f9ff;">44.20%</div>
<div class="c" style="left:256px;top:438px;width:100px;height:21px;background:#e67c73;">0.00</div>
<div class="c" style="left:356px;top:438px;width:99px;height:21px;background:#fdf6f6;">1.00</div>
<div class="c" style="left:455px;top:438px;width:100px;height:21px;background:#e67c73;">0.00</div>
<div class="c" style="left:555px;top:438px;width:100px;height:21px;background:#fdf6f6;">1.00</div>
<div class="c" style="left:655px;top:438px;width:99px;height:21px;">1.07</div>
<div class="c" style="left:754px;top:438px;width:100px;height:21px;background:#e67c73;">-100.00%</div>
<div class="c" style="left:854px;top:438px;width:99px;height:21px;background:#e67c73;">-100.00%</div>
<div class="c" style="left:953px;top:438px;width:100px;height:21px;background:#57bb8a;">$0.00</div>
<div class="c" style="left:1053px;top:438px;width:100px;height:21px;background:#64c093;">$801.20</div>
<div class="c" style="left:1153px;top:438px;width:99px;height:21px;background:#57bb8a;padding-right:4.8px;">$0.00</div>
<div class="c" style="left:-43px;top:480px;width:100px;height:21px;">$2,611.86</div>
<div class="c" style="left:57px;top:480px;width:100px;height:21px;background:#eef4fe;">$2,358.30</div>
<div class="c" style="left:157px;top:480px;width:99px;height:21px;">10.75%</div>
<div class="c" style="left:256px;top:480px;width:100px;height:21px;background:#f5c9c6;">15.00</div>
<div class="c" style="left:356px;top:480px;width:99px;height:21px;background:#f6cfcc;">16.10</div>
<div class="c" style="left:455px;top:480px;width:100px;height:21px;background:#fbe8e7;">20.95</div>
<div class="c" style="left:555px;top:480px;width:100px;height:21px;background:#fef9f9;">24.29</div>
<div class="c" style="left:655px;top:480px;width:99px;height:21px;">25.36</div>
<div class="c" style="left:754px;top:480px;width:100px;height:21px;">-19.03%</div>
<div class="c" style="left:854px;top:480px;width:99px;height:21px;background:#e67c73;">-30.80%</div>
<div class="c" style="left:953px;top:480px;width:100px;height:21px;background:#81cca7;">$8,462.61</div>
<div class="c" style="left:1053px;top:480px;width:100px;height:21px;background:#abddc4;">$17,063.27</div>
<div class="c" style="left:1153px;top:480px;width:99px;height:21px;background:#c4e7d6;padding-right:4.8px;">$21,804.79</div>
<div class="vl" style="left:57px"></div>
<div class="vl" style="left:157px"></div>
<div class="vl" style="left:256px"></div>
<div class="vl" style="left:356px"></div>
<div class="vl" style="left:455px"></div>
<div class="vl" style="left:555px"></div>
<div class="vl" style="left:655px"></div>
<div class="vl" style="left:754px"></div>
<div class="vl" style="left:854px"></div>
<div class="vl" style="left:953px"></div>
<div class="vl" style="left:1053px"></div>
<div class="vl" style="left:1153px"></div>
<div class="vl" style="left:1252px"></div>
</div>
<div class="hl" style="top:65px"></div>
<div class="hl" style="top:86px"></div>
<div class="hl" style="top:107px"></div>
<div class="hl" style="top:127px"></div>
<div class="hl" style="top:148px"></div>
<div class="hl" style="top:169px"></div>
<div class="hl" style="top:190px"></div>
<div class="hl" style="top:210px"></div>
<div class="hl" style="top:231px"></div>
<div class="hl" style="top:252px"></div>
<div class="hl" style="top:273px"></div>
<div class="hl" style="top:293px"></div>
<div class="hl" style="top:314px"></div>
<div class="hl" style="top:335px"></div>
<div class="hl" style="top:356px"></div>
<div class="hl" style="top:376px"></div>
<div class="hl" style="top:397px"></div>
<div class="hl" style="top:418px"></div>
<div class="hl" style="top:438px"></div>
<div class="hl" style="top:459px"></div>
<div class="hl" style="top:480px"></div>
<div class="hl" style="top:501px"></div>
<div class="hl" style="top:521px"></div>
<div class="hl" style="top:542px"></div>
<div class="hl" style="top:563px"></div>
<div class="hl" style="top:584px"></div>
<div class="hl" style="top:604px"></div>
</div>
</body></html>
